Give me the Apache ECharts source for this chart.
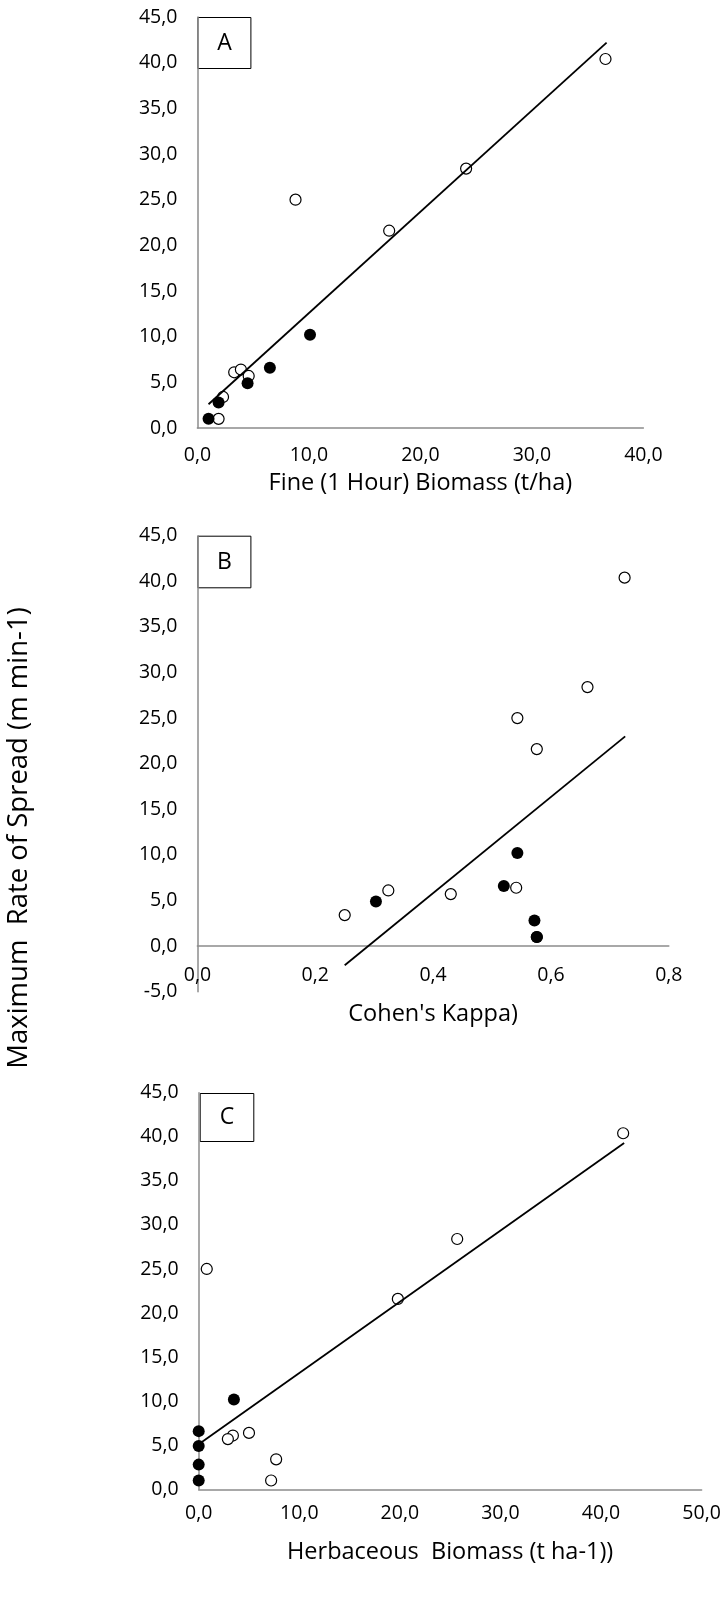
<!DOCTYPE html>
<html>
<head>
<meta charset="utf-8">
<script src="https://cdn.jsdelivr.net/npm/echarts@6/dist/echarts.min.js"></script>
<style>
  body { margin: 0; background: #fff; }
  #chart { width: 725px; height: 1600px; }
</style>
</head>
<body>
<div id="chart"></div>
<script>
// rate of spread (m min-1), open and filled groups
var spreadOpen = [40.4, 28.4, 21.6, 25.0, 6.1, 6.4, 5.7, 3.4, 1.0]
var spreadFilled = [1.0, 2.8, 4.9, 6.6, 10.2]

// panel A: fine (1 hour) biomass
var fineOpen = [36.6, 24.1, 17.2, 8.8, 3.3, 3.9, 4.6, 2.3, 1.9]
var fineFilled = [1.0, 1.9, 4.5, 6.5, 10.1]
var fineTrend = [[1.0, 2.6], [36.7, 42.2]]

// panel B: cohen's kappa
var kappaOpen = [0.725, 0.662, 0.576, 0.543, 0.324, 0.541, 0.43, 0.25, 0.576]
var kappaFilled = [0.576, 0.572, 0.303, 0.52, 0.543]
var kappaTrend = [[0.25, -2.1], [0.726, 23.0]]

// panel C: herbaceous biomass
var herbOpen = [42.2, 25.7, 19.8, 0.8, 3.4, 5.0, 2.9, 7.7, 7.2]
var herbFilled = [0, 0, 0, 0, 3.5]
var herbTrend = [[0, 5.1], [42.3, 39.3]]

var panelLetters = ['A', 'B', 'C']
var xNames = ['Fine (1 Hour) Biomass (t/ha)', "Cohen's Kappa)", 'Herbaceous  Biomass (t ha-1))']
var yName = 'Maximum  Rate of Spread (m min-1)'

var font = 'Open Sans'
var axisGray = '#8c8c8c'

function pairs(xs, ys) {
  return xs.map(function (x, i) { return [x, ys[i]] })
}
function comma(v) {
  return v.toFixed(1).replace('.', ',')
}

var grids = [
  { left: 197.4, top: 17, width: 446, height: 411 },
  { left: 197.4, top: 535.7, width: 471.4, height: 456 },
  { left: 198.7, top: 1092.7, width: 502.9, height: 396.6 }
]
// min, max, interval, label margin, name gap
var xRanges = [[0, 40, 10, 17, 43], [0, 0.8, 0.2, -26, 11], [0, 50, 10, 14, 51]]
var yRanges = [[0, 45], [-5, 45], [0, 45]]

var xAxes = xRanges.map(function (r, i) {
  return {
    type: 'value', gridIndex: i, min: r[0], max: r[1], interval: r[2],
    name: xNames[i], nameLocation: 'middle', nameGap: r[4],
    nameTextStyle: { fontFamily: font, fontSize: 23.5, color: '#000' },
    axisLine: { onZero: true, lineStyle: { color: axisGray, width: 1.5 } },
    axisTick: { show: false },
    splitLine: { show: false },
    axisLabel: { margin: r[3], fontFamily: font, fontSize: 19.5, color: '#000', formatter: comma }
  }
})
var yAxes = yRanges.map(function (r, i) {
  return {
    type: 'value', gridIndex: i, min: r[0], max: r[1], interval: 5,
    axisLine: { show: true, lineStyle: { color: axisGray, width: 1.5 } },
    axisTick: { show: false },
    splitLine: { show: false },
    axisLabel: { margin: 20, fontFamily: font, fontSize: 19.5, color: '#000', formatter: comma }
  }
})

var panels = [
  [fineOpen, fineFilled, fineTrend],
  [kappaOpen, kappaFilled, kappaTrend],
  [herbOpen, herbFilled, herbTrend]
]
var series = []
panels.forEach(function (p, i) {
  series.push({
    type: 'scatter', xAxisIndex: i, yAxisIndex: i, z: 2,
    data: pairs(p[0], spreadOpen), symbolSize: 11,
    itemStyle: { color: '#fff', borderColor: '#000', borderWidth: 1.2, opacity: 1 }
  })
  series.push({
    type: 'line', xAxisIndex: i, yAxisIndex: i, z: 3,
    data: p[2], symbol: 'none',
    lineStyle: { color: '#000', width: 1.8 }
  })
  series.push({
    type: 'scatter', xAxisIndex: i, yAxisIndex: i, z: 4,
    data: pairs(p[1], spreadFilled), symbolSize: 12,
    itemStyle: { color: '#000', opacity: 1 }
  })
})

// letter boxes at the top-left of each plot
var boxes = [
  { left: 197.4, top: 17, w: 53, h: 51 },
  { left: 197.4, top: 535.7, w: 53, h: 51.6 },
  { left: 199.7, top: 1093, w: 53.6, h: 48 }
]
var graphic = boxes.map(function (b, i) {
  return {
    type: 'group', left: b.left, top: b.top, z: 10,
    children: [
      { type: 'rect', shape: { x: 0, y: 0, width: b.w, height: b.h },
        style: { fill: '#fff', stroke: '#000', lineWidth: 1 } },
      { type: 'text', x: b.w / 2, y: b.h / 2,
        style: { text: panelLetters[i], font: '23px "Open Sans"', fill: '#000',
                 textAlign: 'center', textVerticalAlign: 'middle' } }
    ]
  }
})
graphic.push({
  type: 'text', x: 19, y: 838, rotation: Math.PI / 2,
  style: { text: yName, font: '27.5px "Open Sans"', fill: '#000',
           textAlign: 'center', textVerticalAlign: 'middle' }
})

var chart = echarts.init(document.getElementById('chart'))
chart.setOption({
  animation: false,
  backgroundColor: '#fff',
  grid: grids,
  xAxis: xAxes,
  yAxis: yAxes,
  series: series,
  graphic: graphic
})
</script>
</body>
</html>
